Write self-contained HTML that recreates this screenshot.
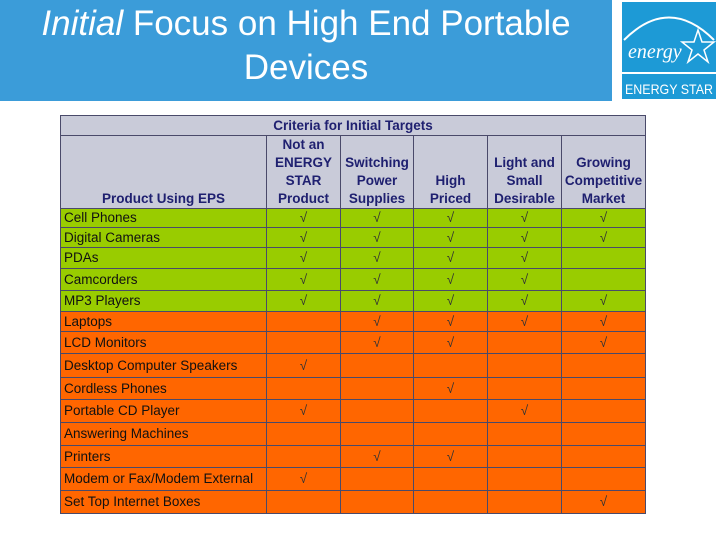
<!DOCTYPE html>
<html><head><meta charset="utf-8"><style>
body{margin:0;width:720px;height:540px;background:#fff;position:relative;overflow:hidden;font-family:"Liberation Sans",sans-serif}
#band{position:absolute;left:0;top:0;width:612px;height:101px;background:#3b9cd9}
#title{position:absolute;left:0;top:2px;width:612px;text-align:center;color:#fff;font-size:35px;line-height:44px}
#logo{position:absolute;left:620px;top:0;width:98px;height:101px;background:#fff}
.c{position:absolute;box-sizing:border-box;border:1px solid #4a4a6a;font-size:13.5px;overflow:hidden;white-space:nowrap}
.h{background:#c9cbd9;color:#1f2070;font-weight:bold;text-align:center}
</style></head><body>
<div id="band"></div>
<div id="title"><i>Initial</i> Focus on High End Portable<br>Devices</div>
<svg id="logo" width="98" height="101" viewBox="0 0 98 101">
<rect x="2" y="2" width="94" height="97" fill="#1d9ad6"/>
<path d="M4 40 Q49 -5 94 40" stroke="#fff" stroke-width="2" fill="none"/>
<text x="8" y="58" fill="#fff" font-family="Liberation Serif" font-style="italic" font-size="20">energy</text>
<polygon points="78,30 82,42 94,42 84,50 88,62 78,54 68,62 72,50 62,42 74,42" fill="none" stroke="#fff" stroke-width="1.5"/>
<line x1="2" y1="73" x2="96" y2="73" stroke="#fff" stroke-width="2"/>
<text x="5" y="94" fill="#fff" font-size="14" textLength="88" lengthAdjust="spacingAndGlyphs" font-family="Liberation Sans">ENERGY STAR</text>
</svg>
<div id="tbl"></div>
<script>
const products=["Cell Phones","Digital Cameras","PDAs","Camcorders","MP3 Players","Laptops","LCD Monitors","Desktop Computer Speakers","Cordless Phones","Portable CD Player","Answering Machines","Printers","Modem or Fax/Modem External","Set Top Internet Boxes"];
const checks=[[1,1,1,1,1],[1,1,1,1,1],[1,1,1,1,0],[1,1,1,1,0],[1,1,1,1,1],[0,1,1,1,1],[0,1,1,0,1],[1,0,0,0,0],[0,0,1,0,0],[1,0,0,1,0],[0,0,0,0,0],[0,1,1,0,0],[1,0,0,0,0],[0,0,0,0,1]];
const greenRows=5;
const headers=["Not an<br>ENERGY<br>STAR<br>Product","Switching<br>Power<br>Supplies","<br>High<br>Priced","Light and<br>Small<br>Desirable","Growing<br>Competitive<br>Market"];
const colX=[60,266,340,413,487,561,645];
const rowY=[208,227,247,268,290,311,331,353,377,399,422,445,467,490,513];
const t=document.getElementById('tbl');
function cell(x,y,w,h,html,cls,bg){const d=document.createElement('div');d.className='c '+cls;d.style.cssText=`left:${x}px;top:${y}px;width:${w+1}px;height:${h+1}px;`+(bg?`background:${bg};`:'');d.innerHTML=html;t.appendChild(d);return d;}
let d=cell(60,115,585,20,'Criteria for Initial Targets','h');d.style.lineHeight='19px';

d=cell(60,135,206,73,'<div style="position:absolute;bottom:0px;width:100%;line-height:18px">Product Using EPS</div>','h');

headers.forEach((hh,i)=>{const e=cell(colX[i+1],135,colX[i+2]-colX[i+1],73,'<div style="position:absolute;bottom:0px;width:100%;line-height:18px">'+hh+'</div>','h');

});
products.forEach((p,r)=>{const bg=r<greenRows?'#99cc00':'#ff6600';const y=rowY[r],h=rowY[r+1]-rowY[r];
const e=cell(60,y,206,h,p,'',bg);e.style.lineHeight=(h-1)+'px';e.style.paddingLeft='3px';e.style.color='#111';


checks[r].forEach((v,i)=>{const c=cell(colX[i+1],y,colX[i+2]-colX[i+1],h,v?'√':'','',bg);c.style.textAlign='center';c.style.lineHeight=(h-1)+'px';c.style.color='#333';

});});
</script>
</body></html>
